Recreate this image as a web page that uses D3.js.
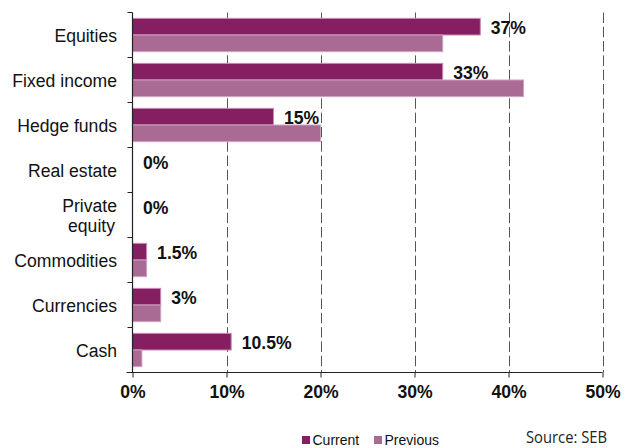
<!DOCTYPE html>
<html>
<head>
<meta charset="utf-8">
<script src="https://cdn.jsdelivr.net/npm/d3@7/dist/d3.min.js"></script>
<style>
  html, body { margin: 0; padding: 0; background: #fff; }
  svg { display: block; font-family: Arial, "Liberation Sans", sans-serif; }
</style>
</head>
<body>
<svg id="chart" width="624" height="448"></svg>
<script>
// Asset allocation, current vs previous (% of portfolio)
const categories = ["Equities", "Fixed income", "Hedge funds", "Real estate", "Private equity", "Commodities", "Currencies", "Cash"];
const currentValues = [37, 33, 15, 0, 0, 1.5, 3, 10.5];
const previousValues = [33, 41.6, 20, 0, 0, 1.5, 3, 1];
const valueLabels = ["37%", "33%", "15%", "0%", "0%", "1.5%", "3%", "10.5%"];
const xTicks = [0, 10, 20, 30, 40, 50];
const seriesNames = ["Current", "Previous"];

const colors = { Current: "#861e62", Previous: "#a96a93" };
const strokes = { Current: "#c98bb6", Previous: "#cda3bf" };

const svg = d3.select("#chart");
const m = { left: 132.5, right: 602.5, top: 12.5, bottom: 372.5 };
const labelSize = 17.6;

const x = d3.scaleLinear().domain([0, 50]).range([m.left, m.right]);
const y = d3.scaleBand().domain(categories).range([m.top, m.bottom])
  .paddingInner(0.26).paddingOuter(0.13);
const ySub = d3.scaleBand().domain(seriesNames).range([0, y.bandwidth()]);

// Dashed vertical gridlines
svg.append("g").selectAll("line")
  .data(xTicks.filter(d => d > 0))
  .join("line")
  .attr("x1", d => Math.round(x(d)) + 0.5)
  .attr("x2", d => Math.round(x(d)) + 0.5)
  .attr("y1", m.top)
  .attr("y2", m.bottom)
  .attr("stroke", "#555")
  .attr("stroke-width", 1)
  .attr("stroke-dasharray", "10.5,3.8");

// Bars
const rows = categories.map((c, i) => ({ c, i, Current: currentValues[i], Previous: previousValues[i] }));
const groups = svg.append("g").selectAll("g")
  .data(rows)
  .join("g")
  .attr("transform", d => `translate(0,${y(d.c)})`);

groups.selectAll("rect")
  .data(d => seriesNames.map(s => ({ s, v: d[s] })).filter(e => e.v > 0))
  .join("rect")
  .attr("x", x(0))
  .attr("y", e => ySub(e.s))
  .attr("width", e => x(e.v) - x(0))
  .attr("height", ySub.bandwidth())
  .attr("fill", e => colors[e.s])
  .attr("stroke", e => strokes[e.s])
  .attr("stroke-width", 1);

// Value labels for the current series
groups.append("text")
  .attr("x", d => x(d.Current) + 10.5)
  .attr("y", d => ySub("Current") + ySub.bandwidth() / 2 + 1)
  .attr("dy", "0.35em")
  .attr("font-size", labelSize)
  .attr("font-weight", "bold")
  .attr("fill", "#111")
  .text(d => valueLabels[d.i]);

// Y axis
svg.append("line")
  .attr("x1", m.left).attr("x2", m.left)
  .attr("y1", m.top).attr("y2", m.bottom)
  .attr("stroke", "#222").attr("stroke-width", 1.2);
// Category boundary ticks
const boundaries = categories.map(c => y(c) - y.step() * y.paddingInner() / 2);
svg.append("g").selectAll("line")
  .data(boundaries)
  .join("line")
  .attr("x1", m.left - 5).attr("x2", m.left)
  .attr("y1", d => d).attr("y2", d => d)
  .attr("stroke", "#222").attr("stroke-width", 1);

// Category labels
const catLabels = svg.append("g").selectAll("text")
  .data(categories)
  .join("text")
  .attr("x", 117)
  .attr("text-anchor", "end")
  .attr("font-size", labelSize)
  .attr("fill", "#111");
catLabels.each(function(c) {
  const t = d3.select(this);
  const cy = y(c) + y.bandwidth() / 2;
  if (c === "Private equity") {
    t.append("tspan").attr("x", 117).attr("y", cy - 9).attr("dy", "0.35em").text("Private");
    t.append("tspan").attr("x", 115).attr("y", cy + 11).attr("dy", "0.35em").text("equity");
  } else {
    t.attr("y", cy + 1).attr("dy", "0.35em").text(c);
  }
});

// X axis
const xAxis = svg.append("g")
  .attr("transform", `translate(0,${m.bottom})`)
  .call(d3.axisBottom(x).tickValues(xTicks).tickSize(5).tickSizeOuter(0).tickFormat(d => d + "%"));
xAxis.select(".domain").remove();
xAxis.selectAll(".tick line").attr("stroke", "#222");
xAxis.selectAll(".tick text")
  .attr("font-family", "Arial, 'Liberation Sans', sans-serif")
  .attr("font-size", labelSize)
  .attr("font-weight", "bold")
  .attr("fill", "#111")
  .attr("y", 13);
svg.append("line")
  .attr("x1", m.left - 6).attr("x2", m.right)
  .attr("y1", m.bottom).attr("y2", m.bottom)
  .attr("stroke", "#222").attr("stroke-width", 1.2);

// Legend
const legend = svg.append("g").selectAll("g")
  .data(seriesNames)
  .join("g")
  .attr("transform", (d, i) => `translate(${i === 0 ? 302 : 374},0)`);
legend.append("rect")
  .attr("x", 0).attr("y", 436)
  .attr("width", 8).attr("height", 8)
  .attr("fill", d => colors[d]);
legend.append("text")
  .attr("x", 10.5).attr("y", 444.5)
  .attr("font-size", 14)
  .attr("fill", "#111")
  .text(d => d);

// Source note
svg.append("text")
  .attr("x", 526).attr("y", 443)
  .attr("font-size", 16)
  .attr("fill", "#222")
  .attr("font-family", "'Open Sans', 'Noto Sans', sans-serif")
  .attr("textLength", 81)
  .attr("lengthAdjust", "spacingAndGlyphs")
  .text("Source: SEB");
</script>
</body>
</html>
